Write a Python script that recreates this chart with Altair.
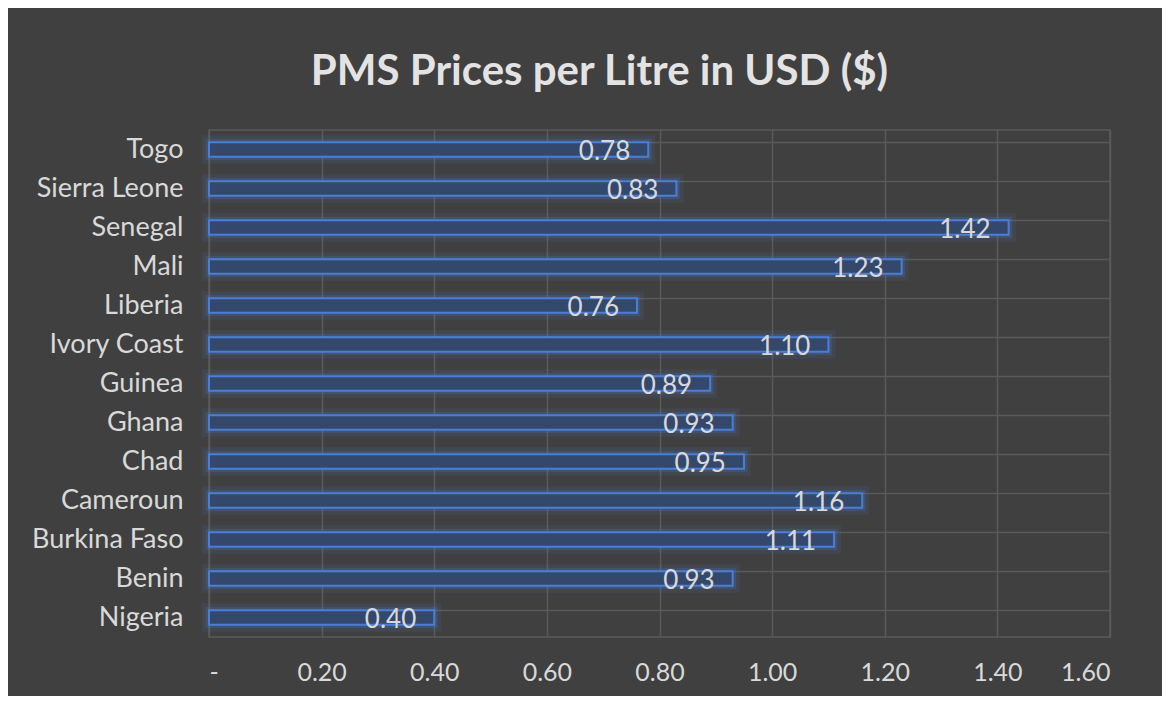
import altair as alt
import pandas as pd

countries = ["Togo", "Sierra Leone", "Senegal", "Mali", "Liberia", "Ivory Coast",
             "Guinea", "Ghana", "Chad", "Cameroun", "Burkina Faso", "Benin", "Nigeria"]
prices = [0.78, 0.83, 1.42, 1.23, 0.76, 1.10, 0.89, 0.93, 0.95, 1.16, 1.11, 0.93, 0.40]
x_ticks = [0, 0.2, 0.4, 0.6, 0.8, 1.0, 1.2, 1.4, 1.6]

df = pd.DataFrame({"country": countries, "price": prices})

FONT = "Lato"
TXT = "#d9d9d9"
GRID = "#5a5a5a"
BLUE = "#4a7fd8"

y_enc = alt.Y("country:N", sort=countries, title=None,
              scale=alt.Scale(paddingInner=0.63, paddingOuter=0.315),
              axis=alt.Axis(bandPosition=0, grid=True, gridColor=GRID, gridWidth=1.5,
                            ticks=False, domain=False, labelPadding=26,
                            labelFontSize=27, labelColor=TXT, labelFont=FONT))
x_enc = alt.X("price:Q", title=None,
              scale=alt.Scale(domain=[0, 1.6], nice=False),
              axis=alt.Axis(values=x_ticks, grid=True, gridColor=GRID, gridWidth=1.5,
                            ticks=False, domain=False, labelPadding=23,
                            labelFontSize=25, labelColor=TXT, labelFont=FONT,
                            labelExpr="datum.value == 0 ? '-' : format(datum.value, '.2f')"))

base = alt.Chart(df).encode(x=x_enc, y=y_enc)

glow1 = base.mark_bar(fill="transparent", stroke=BLUE, strokeWidth=14, strokeOpacity=0.10)
glow2 = base.mark_bar(fill="transparent", stroke=BLUE, strokeWidth=7, strokeOpacity=0.20)
bars = base.mark_bar(fill="#34486c", stroke=BLUE, strokeWidth=2)
labels = base.mark_text(align="right", baseline="middle", dx=-18, dy=2,
                        fontSize=26, color=TXT, font=FONT).encode(
    text=alt.Text("price:Q", format=".2f"))

chart = alt.layer(glow1, glow2, bars, labels).properties(
    width=901, height=507,
    title=alt.Title("PMS Prices per Litre in USD ($)", fontSize=42, fontWeight="bold",
                    color="#e3e3e3", font=FONT, anchor="middle", dx=-60, offset=36),
    background="#404040",
    padding={"left": 201, "top": 122, "right": 52, "bottom": 59},
    autosize=alt.AutoSizeParams(type="none"),
).configure_view(stroke=GRID, strokeWidth=1.5)

chart.save("out.html", embed_options={"renderer": "svg", "actions": False})
